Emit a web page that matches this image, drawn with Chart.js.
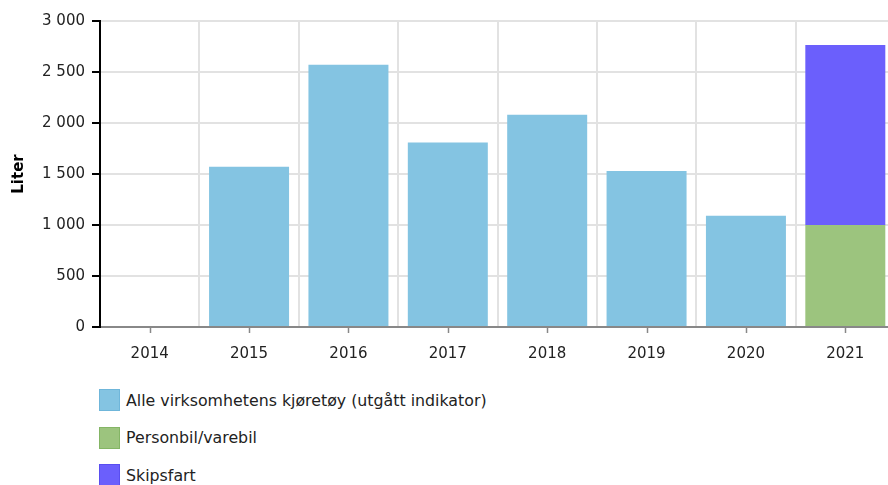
<!DOCTYPE html>
<html>
<head>
<meta charset="utf-8">
<script src="https://cdn.jsdelivr.net/npm/chart.js@4"></script>
<style>
  html, body { margin: 0; padding: 0; background: #fff; overflow: hidden; }
  body { width: 888px; height: 485px; position: relative; font-family: "DejaVu Sans", Verdana, sans-serif; }
  #wrap { position: absolute; left: 0; top: 0; width: 896px; height: 372px; }
  #legend { position: absolute; left: 99px; top: 389px; }
  .item { display: flex; align-items: center; height: 22px; margin-bottom: 15.5px; font-size: 15.8px; color: #222; }
  .box { width: 19px; height: 20px; border: 1px solid; margin-right: 6px; }
</style>
</head>
<body>
<div id="wrap"><canvas id="chart"></canvas></div>
<div id="legend"></div>
<script>
// Kategorier og verdier
const years = ["2014", "2015", "2016", "2017", "2018", "2019", "2020", "2021"];
const kjoretoy = [0, 1570, 2570, 1810, 2080, 1530, 1090, null];
const personbil = [null, null, null, null, null, null, null, 1000];
const skipsfart = [null, null, null, null, null, null, null, 1765];
const yTicks = [0, 500, 1000, 1500, 2000, 2500, 3000];

function fmt(v) {
    return String(v).replace(/\B(?=(\d{3})+(?!\d))/g, " ");
}

// Små tick-streker under x-aksen, midt på hver kategori
const centerTicks = {
    id: "centerTicks",
    afterDraw(chart) {
        const x = chart.scales.x;
        const c = chart.ctx;
        c.save();
        c.strokeStyle = "#888";
        c.lineWidth = 1.5;
        years.forEach((y, i) => {
            const px = Math.round(x.getPixelForValue(i)) + 0.5;
            c.beginPath();
            c.moveTo(px, x.top);
            c.lineTo(px, x.top + 6);
            c.stroke();
        });
        c.restore();
    }
};

const ctx = document.getElementById("chart").getContext("2d");
const chart = new Chart(ctx, {
    type: "bar",
    data: {
        labels: years,
        datasets: [{
            label: "Alle virksomhetens kjøretøy (utgått indikator)",
            data: kjoretoy,
            backgroundColor: "#84c4e2",
            borderColor: "#6fb6da"
        }, {
            label: "Personbil/varebil",
            data: personbil,
            backgroundColor: "#9cc47e",
            borderColor: "#84b565"
        }, {
            label: "Skipsfart",
            data: skipsfart,
            backgroundColor: "#6b5ffc",
            borderColor: "#5a4ef0"
        }]
    },
    options: {
        responsive: true,
        maintainAspectRatio: false,
        animation: false,
        layout: { padding: { top: 21, right: 1, left: 0, bottom: 0 } },
        datasets: { bar: { categoryPercentage: 1, barPercentage: 0.805, borderWidth: 0 } },
        plugins: { legend: { display: false }, tooltip: { enabled: false } },
        scales: {
            x: {
                stacked: true,
                grid: { offset: true, color: "#e2e2e2", lineWidth: 2, drawTicks: false },
                border: { color: "#888", width: 2 },
                ticks: { color: "#222", padding: 18, font: { family: "DejaVu Sans", size: 15 } },
                afterFit(s) { s.height = 45; }
            },
            y: {
                stacked: true,
                min: 0,
                max: 3000,
                afterBuildTicks(s) { s.ticks = yTicks.map(v => ({ value: v })); },
                grid: { color: "#e2e2e2", lineWidth: 2, tickColor: "#000", tickLength: 8 },
                border: { color: "#000", width: 2 },
                ticks: { color: "#222", padding: 7, font: { family: "DejaVu Sans", size: 15 }, callback: v => fmt(v) },
                title: { display: true, text: "Liter", color: "#000", padding: { top: 10, bottom: 0 }, font: { family: "DejaVu Sans", size: 15, weight: "bold" } },
                afterFit(s) { s.width = 100; }
            }
        }
    },
    plugins: [centerTicks]
});

// HTML-legende, ett element per linje
const legend = document.getElementById("legend");
chart.data.datasets.forEach(ds => {
    const row = document.createElement("div");
    row.className = "item";
    const box = document.createElement("span");
    box.className = "box";
    box.style.background = ds.backgroundColor;
    box.style.borderColor = ds.borderColor;
    const txt = document.createElement("span");
    txt.textContent = ds.label;
    row.appendChild(box);
    row.appendChild(txt);
    legend.appendChild(row);
});
</script>
</body>
</html>
